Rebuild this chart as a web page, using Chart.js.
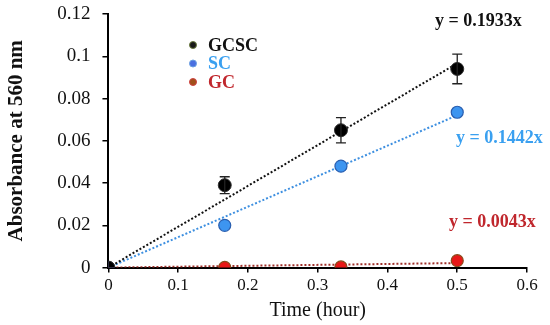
<!DOCTYPE html>
<html>
<head>
<meta charset="utf-8">
<script src="https://cdn.jsdelivr.net/npm/chart.js@4/dist/chart.umd.min.js"></script>
<style>
  html, body { margin: 0; padding: 0; background: #fff; }
  #wrap { width: 550px; height: 325px; }
</style>
</head>
<body>
<div id="wrap"><canvas id="chart" width="550" height="325"></canvas></div>
<script>
// Measured data (time in hours)
const times = [0, 0.1667, 0.3333, 0.5];
const gcscValues = [0, 0.039, 0.065, 0.094];
const gcscErrors = [0, 0.004, 0.006, 0.007];
const scValues = [0, 0.020, 0.048, 0.0735];
const gcValues = [0, 0.0001, 0.0003, 0.0033];

// Linear fits through origin
const fitRange = [0, 0.5];
const gcscSlope = 0.1933;
const scSlope = 0.1442;
const gcSlope = 0.0043;

const seriesNames = ['GCSC', 'SC', 'GC'];
const xTicks = [0, 0.1, 0.2, 0.3, 0.4, 0.5, 0.6];
const yTicks = [0, 0.02, 0.04, 0.06, 0.08, 0.1, 0.12];

const SERIF = '"Liberation Serif", "Times New Roman", serif';

function points(vals) {
  return times.map((t, i) => ({ x: t, y: vals[i] }));
}
function fitLine(slope) {
  return fitRange.map(x => ({ x: x, y: slope * x }));
}

// error bars for GCSC
const errorBarPlugin = {
  id: 'errorBars',
  afterDatasetsDraw(chart) {
    const { ctx, scales } = chart;
    ctx.save();
    ctx.strokeStyle = '#222';
    ctx.lineWidth = 1.3;
    times.forEach((t, i) => {
      const e = gcscErrors[i];
      if (!e) return;
      const x = scales.x.getPixelForValue(t);
      const y1 = scales.y.getPixelForValue(gcscValues[i] + e);
      const y2 = scales.y.getPixelForValue(gcscValues[i] - e);
      ctx.beginPath();
      ctx.moveTo(x, y1); ctx.lineTo(x, y2);
      ctx.moveTo(x - 5, y1); ctx.lineTo(x + 5, y1);
      ctx.moveTo(x - 5, y2); ctx.lineTo(x + 5, y2);
      ctx.stroke();
    });
    ctx.restore();
  }
};

// legend and equation labels
const labelPlugin = {
  id: 'labels',
  afterDraw(chart) {
    const ctx = chart.ctx;
    ctx.save();
    ctx.font = 'bold 18px ' + SERIF;
    ctx.textBaseline = 'middle';
    const legendColors = [['#1a1a1a', '#6b7b3f', '#111'], ['#4a6fe0', '#6aa0e0', '#3aa0f0'], ['#a0501a', '#d04040', '#c0272d']];
    seriesNames.forEach((name, i) => {
      const y = 45 + i * 18.5;
      ctx.beginPath();
      ctx.arc(193, y, 3.5, 0, Math.PI * 2);
      ctx.fillStyle = legendColors[i][0];
      ctx.fill();
      ctx.strokeStyle = legendColors[i][1];
      ctx.lineWidth = 1;
      ctx.stroke();
      ctx.fillStyle = legendColors[i][2];
      ctx.textAlign = 'left';
      ctx.fillText(name, 208, y + 1);
    });
    ctx.font = 'bold 18px ' + SERIF;
    ctx.textAlign = 'left';
    ctx.fillStyle = '#111';
    ctx.fillText('y = ' + gcscSlope + 'x', 435, 21);
    ctx.fillStyle = '#3aa0f0';
    ctx.fillText('y = ' + scSlope + 'x', 456, 138);
    ctx.fillStyle = '#c0272d';
    ctx.fillText('y = ' + gcSlope + 'x', 449, 222);
    ctx.restore();
  }
};

const ctx = document.getElementById('chart').getContext('2d');
new Chart(ctx, {
  type: 'scatter',
  data: {
    datasets: [
      { label: 'GCSC fit', type: 'line', data: fitLine(gcscSlope), borderColor: '#111', borderWidth: 2, borderDash: [2, 2], pointRadius: 0, fill: false, order: 5 },
      { label: 'SC fit', type: 'line', data: fitLine(scSlope), borderColor: '#3d8fe0', borderWidth: 2, borderDash: [2, 2], pointRadius: 0, fill: false, order: 5 },
      { label: 'GC fit', type: 'line', data: fitLine(gcSlope), borderColor: '#a0302a', borderWidth: 2, borderDash: [2, 2], pointRadius: 0, fill: false, order: 5 },
      { label: seriesNames[0], data: points(gcscValues), backgroundColor: '#000', borderColor: '#333', pointRadius: 6.5, order: 1 },
      { label: seriesNames[1], data: points(scValues), backgroundColor: '#3d95f0', borderColor: '#2a5fb0', borderWidth: 1.2, pointRadius: 6, order: 2 },
      { label: seriesNames[2], data: points(gcValues), backgroundColor: '#e81818', borderColor: '#8a4a1a', borderWidth: 1.2, pointRadius: 6, order: 3 }
    ]
  },
  options: {
    responsive: false,
    animation: false,
    layout: { padding: { left: 4, right: 23, top: 14, bottom: 2 } },
    plugins: { legend: { display: false }, tooltip: { enabled: false } },
    scales: {
      x: {
        type: 'linear', min: 0, max: 0.6,
        afterBuildTicks: axis => { axis.ticks = xTicks.map(v => ({ value: v })); },
        ticks: { color: '#111', font: { family: SERIF, size: 17 }, padding: 3, callback: v => String(+v.toFixed(2)) },
        grid: { drawOnChartArea: false, drawTicks: true, tickLength: 5, color: '#000', lineWidth: 1.5 },
        border: { display: true, color: '#000', width: 2 },
        title: { display: true, text: 'Time (hour)', color: '#111', font: { family: SERIF, size: 20 }, padding: { top: 0, bottom: 0 } }
      },
      y: {
        type: 'linear', min: 0, max: 0.12,
        afterBuildTicks: axis => { axis.ticks = yTicks.map(v => ({ value: v })); },
        afterFit: axis => { axis.paddingTop = 0; },
        ticks: { color: '#111', font: { family: SERIF, size: 19 }, padding: 12, callback: v => String(+v.toFixed(2)) },
        grid: { drawOnChartArea: false, drawTicks: true, tickLength: 6, color: '#000', lineWidth: 1.5 },
        border: { display: true, color: '#000', width: 2 },
        title: { display: true, text: 'Absorbance at 560 nm', color: '#111', font: { family: SERIF, size: 21, weight: 'bold' }, padding: { top: 0, bottom: 16 } }
      }
    }
  },
  plugins: [errorBarPlugin, labelPlugin]
});
</script>
</body>
</html>
